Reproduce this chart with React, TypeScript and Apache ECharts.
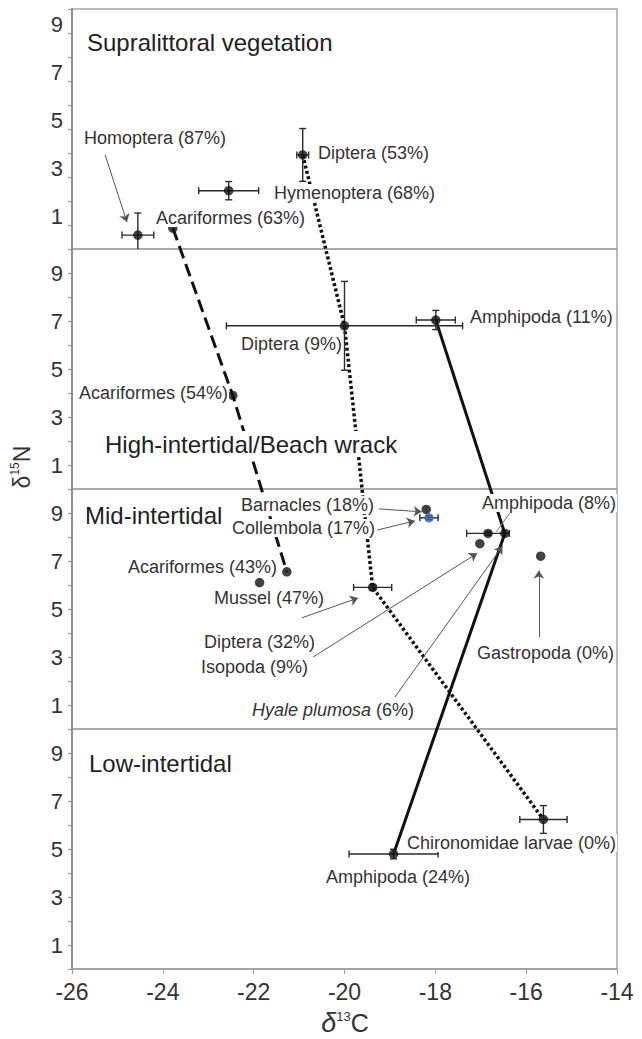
import React, { useEffect, useRef } from 'react';
import * as echarts from 'echarts';

// ---------- DATA ----------
const zoneNames = ['Supralittoral vegetation', 'High-intertidal/Beach wrack', 'Mid-intertidal', 'Low-intertidal'];
const xTickValues = [-26, -24, -22, -20, -18, -16, -14];
const yTickLabels = [1, 3, 5, 7, 9];

// Supralittoral vegetation
const supraTaxa = ['Homoptera', 'Acariformes', 'Hymenoptera', 'Diptera'];
const supraPct = [87, 63, 68, 53];
const supraC = [-24.55, -23.78, -22.55, -20.92];
const supraN = [0.58, 0.87, 2.43, 3.92];
const supraCErr = [0.35, 0, 0.66, 0.13];
const supraNErr = [0.92, 0, 0.38, 1.1];

// High-intertidal / Beach wrack
const highTaxa = ['Diptera', 'Amphipoda', 'Acariformes'];
const highPct = [9, 11, 54];
const highC = [-20.0, -17.99, -22.46];
const highN = [6.8, 7.04, 3.9];
const highCErr = [2.6, 0.43, 0];
const highNErr = [1.85, 0.4, 0];

// Mid-intertidal
const midTaxa = ['Barnacles', 'Collembola', 'Acariformes', 'Mussel', 'Diptera', 'Hyale plumosa', 'Amphipoda', 'Isopoda', 'Gastropoda'];
const midPct = [18, 17, 43, 47, 32, 6, 8, 9, 0];
const midC = [-18.2, -18.14, -21.27, -21.87, -19.38, -16.84, -16.47, -17.02, -15.68];
const midN = [9.15, 8.8, 6.55, 6.1, 5.9, 8.15, 8.15, 7.72, 7.2];
const midCErr = [0, 0.2, 0, 0, 0.42, 0.47, 0, 0, 0];
const midNErr = [0, 0.08, 0, 0, 0.1, 0.08, 0, 0, 0];

// Low-intertidal
const lowTaxa = ['Chironomidae larvae', 'Amphipoda'];
const lowPct = [0, 24];
const lowC = [-15.62, -18.92];
const lowN = [6.23, 4.79];
const lowCErr = [0.52, 0.98];
const lowNErr = [0.58, 0.2];

// connecting lines across zones: [zoneIndex, taxonIndex]
const acariformesPath = [[0, 1], [1, 2], [2, 2]];
const dipteraPath = [[0, 3], [1, 0], [2, 4], [3, 0]];
const amphipodaPath = [[1, 1], [2, 6], [3, 1]];

// annotation arrows (zone, from [C, N], to [C, N])
const arrowNotes = [
  { zone: 0, from: [-25.27, 3.92], to: [-24.79, 1.12] },
  { zone: 2, from: [-19.24, 9.17], to: [-18.3, 9.05] },
  { zone: 2, from: [-19.28, 8.29], to: [-18.45, 8.67] },
  { zone: 2, from: [-20.94, 4.63], to: [-19.7, 5.46] },
  { zone: 2, from: [-20.69, 3.0], to: [-17.08, 7.32] },
  { zone: 2, from: [-18.89, 1.33], to: [-16.52, 7.62] },
  { zone: 2, from: [-15.72, 3.83], to: [-15.72, 6.6] },
];
const leaderNotes = [{ zone: 2, from: [-16.36, 9.0], to: [-16.66, 8.22] }];

// ---------- LAYOUT ----------
const PANEL_TOPS = [9, 249, 489, 729];
const PANEL_H = 240;
const LEFT = 72;
const RIGHT = 25;
const FONT = '"Liberation Sans", Arial, sans-serif';
const TEXT = '#333';

const zoneLabelAt = [[85, 42], [103, 444], [83, 515], [87, 763]];
const labelAt: any[][] = [
  [[83, 138], [155, 218], [273, 193], [317, 153]],
  [[240, 344], [469, 317], [78, 393]],
  [[240, 505], [231, 528], [127, 567], [213, 598], [203, 642], [251, 710], [617, 503, 'right'], [200, 667], [476, 653]],
  [[617, 843, 'right'], [325, 877]],
];

const zones = [
  { taxa: supraTaxa, pct: supraPct, c: supraC, n: supraN, ce: supraCErr, ne: supraNErr },
  { taxa: highTaxa, pct: highPct, c: highC, n: highN, ce: highCErr, ne: highNErr },
  { taxa: midTaxa, pct: midPct, c: midC, n: midN, ce: midCErr, ne: midNErr },
  { taxa: lowTaxa, pct: lowPct, c: lowC, n: lowN, ce: lowCErr, ne: lowNErr },
];

const stackY = (zone: number, n: number) => (3 - zone) * 10 + n;

function errRender(params: any, api: any) {
  const x = api.value(0), y = api.value(1), ex = api.value(2), ey = api.value(3);
  const cap = 3.5;
  const style = { stroke: '#2a2a2a', lineWidth: 1.4 };
  const children: any[] = [];
  if (ex > 0) {
    const l = api.coord([x - ex, y]);
    const r = api.coord([x + ex, y]);
    children.push({ type: 'line', shape: { x1: l[0], y1: l[1], x2: r[0], y2: r[1] }, style });
    children.push({ type: 'line', shape: { x1: l[0], y1: l[1] - cap, x2: l[0], y2: l[1] + cap }, style });
    children.push({ type: 'line', shape: { x1: r[0], y1: r[1] - cap, x2: r[0], y2: r[1] + cap }, style });
  }
  if (ey > 0) {
    const lowV = Math.max(y - ey, 0);
    const t = api.coord([x, y + ey]);
    const b = api.coord([x, lowV]);
    children.push({ type: 'line', shape: { x1: t[0], y1: t[1], x2: b[0], y2: b[1] }, style });
    children.push({ type: 'line', shape: { x1: t[0] - cap, y1: t[1], x2: t[0] + cap, y2: t[1] }, style });
    if (y - ey >= 0) children.push({ type: 'line', shape: { x1: b[0] - cap, y1: b[1], x2: b[0] + cap, y2: b[1] }, style });
  }
  return { type: 'group', children };
}

export default function App() {
  const ref = useRef<HTMLDivElement>(null);
  useEffect(() => {
    const chart = echarts.init(ref.current!, null, { renderer: 'svg' });

    const grid: any[] = PANEL_TOPS.map((t) => ({
      left: LEFT, right: RIGHT, top: t, height: PANEL_H, show: true,
      borderColor: '#a5a5a5', borderWidth: 1.5, backgroundColor: 'transparent',
    }));
    grid.push({ left: LEFT, right: RIGHT, top: PANEL_TOPS[0], height: PANEL_H * 4, show: false });

    const xAxis: any[] = PANEL_TOPS.map((_, i) => ({
      type: 'value', gridIndex: i, min: xTickValues[0], max: xTickValues[xTickValues.length - 1], interval: 2,
      axisLine: { show: i === 3, lineStyle: { color: '#9a9a9a', width: 1.5 } },
      axisTick: { show: i === 3, length: 5, lineStyle: { color: '#9a9a9a', width: 1 } },
      axisLabel: { show: i === 3, color: TEXT, fontSize: 23, fontFamily: FONT, margin: 11 },
      splitLine: { show: false },
    }));
    xAxis.push({ type: 'value', gridIndex: 4, min: -26, max: -14, show: false });

    const yAxis: any[] = PANEL_TOPS.map((_, i) => ({
      type: 'value', gridIndex: i, min: 0, max: 10, interval: 1,
      axisLine: { show: true, lineStyle: { color: '#8e8e8e', width: 2 } },
      axisTick: { show: true, length: 4, lineStyle: { color: '#8e8e8e', width: 1 } },
      axisLabel: {
        color: TEXT, fontSize: 22, fontFamily: FONT, margin: 9,
        verticalAlign: i === 0 ? 'bottom' : 'middle',
        lineHeight: i === 0 ? 18 : 24,
        formatter: (v: number) => (yTickLabels.includes(v) ? String(v) : ''),
      },
      splitLine: { show: false },
    }));
    yAxis.push({ type: 'value', gridIndex: 4, min: 0, max: 40, show: false });

    const series: any[] = [];
    const pathLine = (path: number[][], type: any, width: number) => ({
      type: 'line', xAxisIndex: 4, yAxisIndex: 4, symbol: 'none', z: 2, silent: true,
      lineStyle: { color: '#111', width, type },
      data: path.map(([z, k]) => [zones[z].c[k], stackY(z, zones[z].n[k])]),
    });
    series.push(pathLine(acariformesPath, [13, 6], 3));
    series.push(pathLine(dipteraPath, [3, 2.5], 3.5));
    series.push(pathLine(amphipodaPath, 'solid', 3));

    series.push({
      type: 'lines', coordinateSystem: 'cartesian2d', xAxisIndex: 4, yAxisIndex: 4, z: 3,
      symbol: ['none', 'arrow'], symbolSize: 8,
      lineStyle: { color: '#555', width: 1, opacity: 1, curveness: 0 },
      data: arrowNotes.map((a) => ({ coords: [[a.from[0], stackY(a.zone, a.from[1])], [a.to[0], stackY(a.zone, a.to[1])]] })),
    });
    series.push({
      type: 'lines', coordinateSystem: 'cartesian2d', xAxisIndex: 4, yAxisIndex: 4, z: 3,
      symbol: ['none', 'none'],
      lineStyle: { color: '#777', width: 1, opacity: 1 },
      data: leaderNotes.map((a) => ({ coords: [[a.from[0], stackY(a.zone, a.from[1])], [a.to[0], stackY(a.zone, a.to[1])]] })),
    });

    zones.forEach((zd, i) => {
      series.push({
        type: 'custom', xAxisIndex: i, yAxisIndex: i, z: 3, renderItem: errRender,
        encode: { x: 0, y: 1 },
        data: zd.c.map((c, k) => [c, zd.n[k], zd.ce[k], zd.ne[k]]),
      });
      series.push({
        type: 'scatter', xAxisIndex: i, yAxisIndex: i, z: 4, symbolSize: 9.5,
        itemStyle: { color: '#111' },
        data: zd.c.map((c, k) => {
          const item: any = { value: [c, zd.n[k]], name: zd.taxa[k] };
          if (zd.taxa[k] === 'Collembola') item.itemStyle = { color: '#3f68b5' };
          return item;
        }),
      });
    });

    const graphic: any[] = [];
    zoneNames.forEach((name, i) => {
      graphic.push({
        type: 'text', x: zoneLabelAt[i][0], y: zoneLabelAt[i][1], z: 100,
        style: {
          text: name, fontSize: 24, fontFamily: FONT, fill: '#222',
          align: 'left', verticalAlign: 'middle', textAlign: 'left', textVerticalAlign: 'middle',
          backgroundColor: '#fff', padding: [1, 2],
        },
      });
    });
    zones.forEach((zd, i) => {
      zd.taxa.forEach((t, k) => {
        const pos = labelAt[i][k];
        const align = pos[2] || 'left';
        const italic = t === 'Hyale plumosa';
        const text = italic ? `{i|${t}} (${zd.pct[k]}%)` : `${t} (${zd.pct[k]}%)`;
        graphic.push({
          type: 'text', x: pos[0], y: pos[1], z: 100,
          style: {
            text, fontSize: 18, fontFamily: FONT, fill: TEXT,
            align, verticalAlign: 'middle', textAlign: align, textVerticalAlign: 'middle',
            backgroundColor: '#fff', padding: [0, 1],
            rich: { i: { fontStyle: 'italic', fontSize: 18, fontFamily: FONT, fill: TEXT } },
          },
        });
      });
    });
    // axis titles
    graphic.push({
      type: 'text', x: 22, y: 467, rotation: Math.PI / 2, z: 100,
      style: {
        text: '{a|δ}{s|15}{a|N}', align: 'center', verticalAlign: 'middle', textAlign: 'center', textVerticalAlign: 'middle',
        rich: {
          a: { fontSize: 23, fontFamily: FONT, fill: TEXT, lineHeight: 26 },
          s: { fontSize: 12, fontFamily: FONT, fill: TEXT, lineHeight: 12, verticalAlign: 'top' },
        },
      },
    });
    graphic.push({
      type: 'text', x: 345, y: 1023, z: 100,
      style: {
        text: '{d|δ}{s|13}{a|C}', align: 'center', verticalAlign: 'middle', textAlign: 'center', textVerticalAlign: 'middle',
        rich: {
          d: { fontSize: 27, fontFamily: FONT, fontStyle: 'italic', fill: TEXT, lineHeight: 26 },
          a: { fontSize: 25, fontFamily: FONT, fill: TEXT, lineHeight: 26 },
          s: { fontSize: 13, fontFamily: FONT, fill: TEXT, lineHeight: 13, verticalAlign: 'top' },
        },
      },
    });

    chart.setOption({
      animation: false,
      backgroundColor: '#fff',
      grid, xAxis, yAxis, series, graphic,
    });
    return () => chart.dispose();
  }, []);
  return <div ref={ref} style={{ position: 'absolute', left: 0, top: 0, width: 642, height: 1039, background: '#fff' }} />;
}
